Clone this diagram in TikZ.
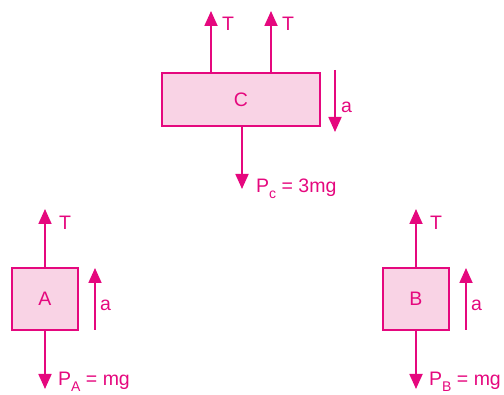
\documentclass[tikz,border=0pt]{standalone}
\usepackage{fontspec}
\setmainfont{Liberation Sans}
\usetikzlibrary{arrows.meta}
\definecolor{mag}{HTML}{E5087E}
\definecolor{pinkfill}{HTML}{F9D3E5}
\newcommand{\subtxt}[1]{\raisebox{-0.3em}{\fontsize{14}{14}\selectfont #1}}
\tikzset{
  blockbox/.style={draw=mag, fill=pinkfill, line width=1.8pt, text=mag, font=\fontsize{19.5}{22}\selectfont, inner sep=0pt},
  force/.style={draw=mag, line width=1.8pt, -{Triangle[length=15pt,width=13pt]}},
  lbl/.style={text=mag, font=\fontsize{19.5}{22}\selectfont, inner sep=0pt}
}
\begin{document}
\begin{tikzpicture}[x=1pt,y=-1pt]
\useasboundingbox (0,0) rectangle (504,395);
% boxes
\node[blockbox, minimum width=158pt, minimum height=53pt] (C) at (241,99.5) {C};
\node[blockbox, minimum width=66pt, minimum height=62pt] (A) at (45,299) {A};
\node[blockbox, minimum width=66pt, minimum height=62pt] (B) at (416,299) {B};
% coordinates
\coordinate (cT1) at (211,11);
\coordinate (cT2) at (271,11);
\coordinate (cP) at (242,189);
\coordinate (ca1) at (335,70);
\coordinate (ca2) at (335,132);
\coordinate (aT) at (45,209);
\coordinate (aP) at (45,389);
\coordinate (aa1) at (95,330);
\coordinate (aa2) at (95,268);
\coordinate (bT) at (416,209);
\coordinate (bP) at (416,389);
\coordinate (ba1) at (466,330);
\coordinate (ba2) at (466,268);
% forces
\draw[force] (C.north -| cT1) -- (cT1);
\draw[force] (C.north -| cT2) -- (cT2);
\draw[force] (C.south -| cP) -- (cP);
\draw[force] (ca1) -- (ca2);
\draw[force] (A.north) -- (aT);
\draw[force] (A.south) -- (aP);
\draw[force] (aa1) -- (aa2);
\draw[force] (B.north) -- (bT);
\draw[force] (B.south) -- (bP);
\draw[force] (ba1) -- (ba2);
% labels
\node[lbl, anchor=base west] (lT1) at (222,31) {T};
\node[lbl, anchor=base west] (lT2) at (282,31) {T};
\node[lbl, anchor=base west] (la) at (341,113) {a};
\node[lbl, anchor=base west] (lPc) at (256,193) {P\subtxt{c} = 3mg};
\node[lbl, anchor=base west] (lTA) at (59,230) {T};
\node[lbl, anchor=base west] (laA) at (100,311) {a};
\node[lbl, anchor=base west] (lPA) at (58,386) {P\subtxt{A} = mg};
\node[lbl, anchor=base west] (lTB) at (430,230) {T};
\node[lbl, anchor=base west] (laB) at (471,311) {a};
\node[lbl, anchor=base west] (lPB) at (429,386) {P\subtxt{B} = mg};
\end{tikzpicture}
\end{document}
